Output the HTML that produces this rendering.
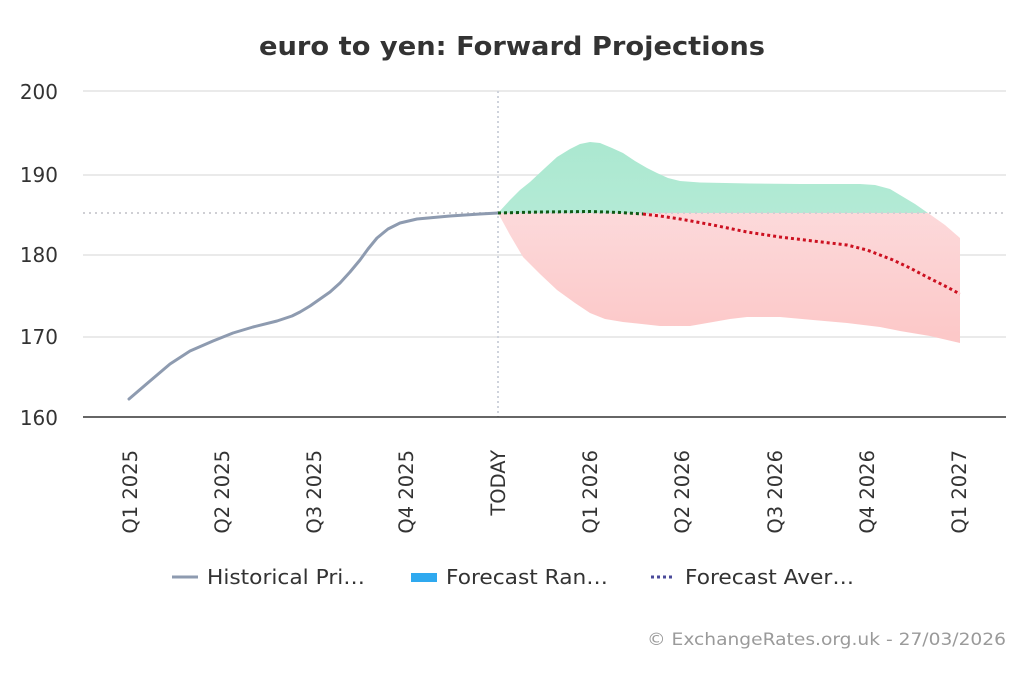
<!DOCTYPE html>
<html>
<head>
<meta charset="utf-8">
<style>
  html,body{margin:0;padding:0;background:#fff;}
  svg{display:block;}
  text{font-family:"DejaVu Sans","Liberation Sans",sans-serif;}
</style>
</head>
<body>
<svg width="1024" height="683" viewBox="0 0 1024 683" xmlns="http://www.w3.org/2000/svg">
  <defs>
    <linearGradient id="red" x1="0" y1="0" x2="0" y2="1">
      <stop offset="0" stop-color="#fde3e5"/>
      <stop offset="1" stop-color="#fcc7c7"/>
    </linearGradient>
    <linearGradient id="green" x1="0" y1="0" x2="0" y2="1">
      <stop offset="0" stop-color="#abe8d0"/>
      <stop offset="1" stop-color="#c2efdf"/>
    </linearGradient>
    <clipPath id="above"><rect x="0" y="0" width="1024" height="213"/></clipPath>
    <clipPath id="below"><rect x="0" y="213" width="1024" height="210"/></clipPath>
  </defs>

  <!-- Title -->
  <text x="259" y="55" font-size="26" font-weight="bold" fill="#333" textLength="506" lengthAdjust="spacingAndGlyphs">euro to yen: Forward Projections</text>

  <!-- Grid -->
  <g stroke="#e3e3e3" stroke-width="1.5">
    <line x1="83" y1="91" x2="1006" y2="91"/>
    <line x1="83" y1="175" x2="1006" y2="175"/>
    <line x1="83" y1="255" x2="1006" y2="255"/>
    <line x1="83" y1="337" x2="1006" y2="337"/>
  </g>

  <!-- Y labels -->
  <g font-size="20" fill="#333" text-anchor="end">
    <text x="58" y="99">200</text>
    <text x="58" y="182">190</text>
    <text x="58" y="262">180</text>
    <text x="58" y="344">170</text>
    <text x="58" y="425">160</text>
  </g>

  <!-- Forecast range -->
  <path id="rng" d="M498,213 L510,200 L520,190 L530,182 L545,168 L557,157 L570,149 L580,144 L590,142 L600,143 L612,148 L623,153 L635,161 L647,168 L657,173 L668,178 L680,181 L700,182.5 L750,183.5 L800,184 L860,184 L875,185 L890,189 L900,195 L915,204 L928,213 L945,225 L960,238 L960,343 L930,336 L900,331 L880,327 L847,323 L813,320 L780,317 L747,317 L730,319 L713,322 L690,326 L660,326 L623,322 L605,319 L590,313 L575,303 L557,290 L540,274 L523,257 L510,235 Z" fill="url(#green)" clip-path="url(#above)"/>
  <path d="M498,213 L510,200 L520,190 L530,182 L545,168 L557,157 L570,149 L580,144 L590,142 L600,143 L612,148 L623,153 L635,161 L647,168 L657,173 L668,178 L680,181 L700,182.5 L750,183.5 L800,184 L860,184 L875,185 L890,189 L900,195 L915,204 L928,213 L945,225 L960,238 L960,343 L930,336 L900,331 L880,327 L847,323 L813,320 L780,317 L747,317 L730,319 L713,322 L690,326 L660,326 L623,322 L605,319 L590,313 L575,303 L557,290 L540,274 L523,257 L510,235 Z" fill="url(#red)" clip-path="url(#below)"/>

  <!-- Current value reference line -->
  <line x1="83" y1="213" x2="1006" y2="213" stroke="#cfcfd4" stroke-width="2" stroke-dasharray="2,4"/>

  <!-- Today vertical line -->
  <line x1="498" y1="91" x2="498" y2="417" stroke="#cfd3dc" stroke-width="2" stroke-dasharray="2,3"/>

  <!-- Axis line -->
  <line x1="83" y1="417" x2="1006" y2="417" stroke="#333" stroke-width="1.5"/>

  <!-- Historical line -->
  <polyline fill="none" stroke="#8e9bb0" stroke-width="3" stroke-linejoin="round" stroke-linecap="round"
    points="129,399 150,381 170,364 190,351 213,341 233,333 253,327 277,321 292,316 300,312 310,306 320,299 330,292 340,283 350,272 360,260 368,249 377,238 388,229 400,223 417,219 450,216 480,214 498,213"/>

  <!-- Forecast average: green part -->
  <polyline fill="none" stroke="#0f5a14" stroke-width="3" stroke-dasharray="3,3"
    points="498,213 540,212 590,211.5 620,212.5 643,214"/>
  <!-- Forecast average: red part -->
  <polyline fill="none" stroke="#cc1020" stroke-width="3" stroke-dasharray="3,3" stroke-linejoin="round"
    points="643,214 660,216 680,219 713,225 747,232 780,237 813,241 847,245 867,250 880,255 893,260 910,268 927,277 945,286 960,294"/>

  <!-- X labels -->
  <g font-size="19.5" fill="#333" text-anchor="end">
    <text transform="translate(137,450) rotate(-90)">Q1 2025</text>
    <text transform="translate(229,450) rotate(-90)">Q2 2025</text>
    <text transform="translate(321,450) rotate(-90)">Q3 2025</text>
    <text transform="translate(413,450) rotate(-90)">Q4 2025</text>
    <text transform="translate(505,450) rotate(-90)">TODAY</text>
    <text transform="translate(597,450) rotate(-90)">Q1 2026</text>
    <text transform="translate(689,450) rotate(-90)">Q2 2026</text>
    <text transform="translate(782,450) rotate(-90)">Q3 2026</text>
    <text transform="translate(874,450) rotate(-90)">Q4 2026</text>
    <text transform="translate(966,450) rotate(-90)">Q1 2027</text>
  </g>

  <!-- Legend -->
  <line x1="172" y1="577" x2="198" y2="577" stroke="#8e9bb0" stroke-width="3"/>
  <text x="207" y="584" font-size="20" fill="#333" textLength="158" lengthAdjust="spacingAndGlyphs">Historical Pri…</text>
  <rect x="411" y="573" width="26" height="9" fill="#2fa9ef"/>
  <text x="446" y="584" font-size="20" fill="#333" textLength="162" lengthAdjust="spacingAndGlyphs">Forecast Ran…</text>
  <line x1="651" y1="577" x2="675" y2="577" stroke="#4a4a9a" stroke-width="3" stroke-dasharray="3,3"/>
  <text x="685" y="584" font-size="20" fill="#333" textLength="169" lengthAdjust="spacingAndGlyphs">Forecast Aver…</text>

  <!-- Credits -->
  <text x="1006" y="645" font-size="17" fill="#9a9a9a" text-anchor="end" textLength="359" lengthAdjust="spacingAndGlyphs">© ExchangeRates.org.uk - 27/03/2026</text>
</svg>
</body>
</html>
